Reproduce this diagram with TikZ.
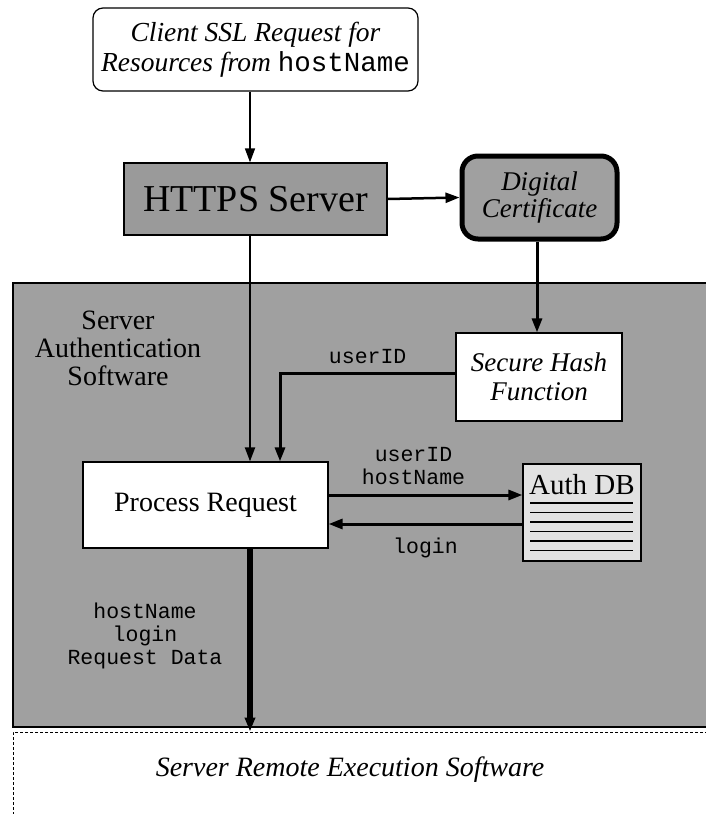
\documentclass[tikz,border=0pt]{standalone}
\usepackage{fontspec}
\setmainfont{Liberation Serif}
\setmonofont{Liberation Mono}
\usetikzlibrary{arrows.meta}
\definecolor{panelgray}{HTML}{A0A0A0}
\definecolor{boxgray}{HTML}{9A9A9A}
\definecolor{dbgray}{HTML}{E2E2E2}

\begin{document}
\begin{tikzpicture}[x=1pt, y=-1pt, every node/.style={align=center, inner sep=0pt},
  box/.style={draw, line width=1.2pt},
  arr/.style={-{Triangle[length=14pt,width=10pt]}, line width=2pt},
  lbl/.style={font=\fontsize{21.5}{23}\selectfont\ttfamily}]
\useasboundingbox (0,0) rectangle (705,814);

\node (authsw) [box, fill=panelgray, minimum width=700, minimum height=444] at (363,505) {};
\node (remote) [draw, dash pattern=on 3pt off 2pt, line width=1pt, fill=white, minimum width=700, minimum height=100] at (363,782) {};
\node (authlbl) [font=\fontsize{28}{28}\selectfont] at (118,348) {Server\\Authentication\\Software};
\node (remotetxt) [font=\fontsize{28}{30}\selectfont\itshape] at (350,770) {Server Remote Execution Software};

\node (client) [box, rounded corners=10pt, fill=white, minimum width=325, minimum height=83, font=\fontsize{27.5}{30}\selectfont\itshape] at (255.5,49.5) {Client SSL Request for\\Resources from \texttt{\upshape hostName}};
\node (https) [box, fill=boxgray, minimum width=263, minimum height=72, font=\fontsize{38}{38}\selectfont] at (255.5,199) {HTTPS Server};
\node (cert) [draw, line width=5pt, rounded corners=16pt, fill=panelgray, minimum width=155, minimum height=83, font=\fontsize{27}{27}\selectfont\itshape] at (539.5,197.5) {Digital\\Certificate};
\node (hash) [box, fill=white, minimum width=166, minimum height=88, font=\fontsize{27}{29}\selectfont\itshape] at (539,377) {Secure Hash\\Function};
\node (process) [box, fill=white, minimum width=245, minimum height=86, font=\fontsize{28}{28}\selectfont] at (205.5,505) {Process Request};
\node (authdb) [box, fill=dbgray, minimum width=118, minimum height=97] at (582,512.5) {};
\node (authtitle) [font=\fontsize{29}{29}\selectfont] at (582,485) {Auth DB};
\foreach \y in {503,512.5,522,531.5,541,550.5}
  \draw[line width=1.3pt] (530,\y) -- (633,\y);
\node (datalbl) [lbl] at (145,636) {hostName\\login\\Request Data};

\draw[arr, line width=1.5pt] ([xshift=-5.5pt]client.south) -- ([xshift=-5.5pt]https.north);
\draw[arr, line width=2.5pt] (https.east) -- (cert.west);
\draw[arr, line width=3pt] ([xshift=-2.5pt]cert.south) -- ([xshift=-2pt]hash.north);
\draw[arr] ([xshift=-5.5pt]https.south) -- ([xshift=44.5pt]process.north);
\draw[arr, line width=3pt] ([yshift=4pt]hash.west) -| ([xshift=74.5pt]process.north)
  node[pos=0.25, above=8pt, lbl] {userID};
\draw[arr, line width=3pt] ([yshift=10pt]process.east) -- ([yshift=10pt]process.east -| authdb.west)
  node[midway, above=9pt, xshift=-12pt, lbl] {userID\\hostName};
\draw[arr, line width=3pt] ([yshift=-19pt]process.east -| authdb.west) -- ([yshift=-19pt]process.east)
  node[midway, below=12pt, lbl] {login};
\draw[arr, line width=6pt] ([xshift=44.5pt]process.south) -- ([xshift=44.5pt]process.south |- remote.north);
\end{tikzpicture}
\end{document}
